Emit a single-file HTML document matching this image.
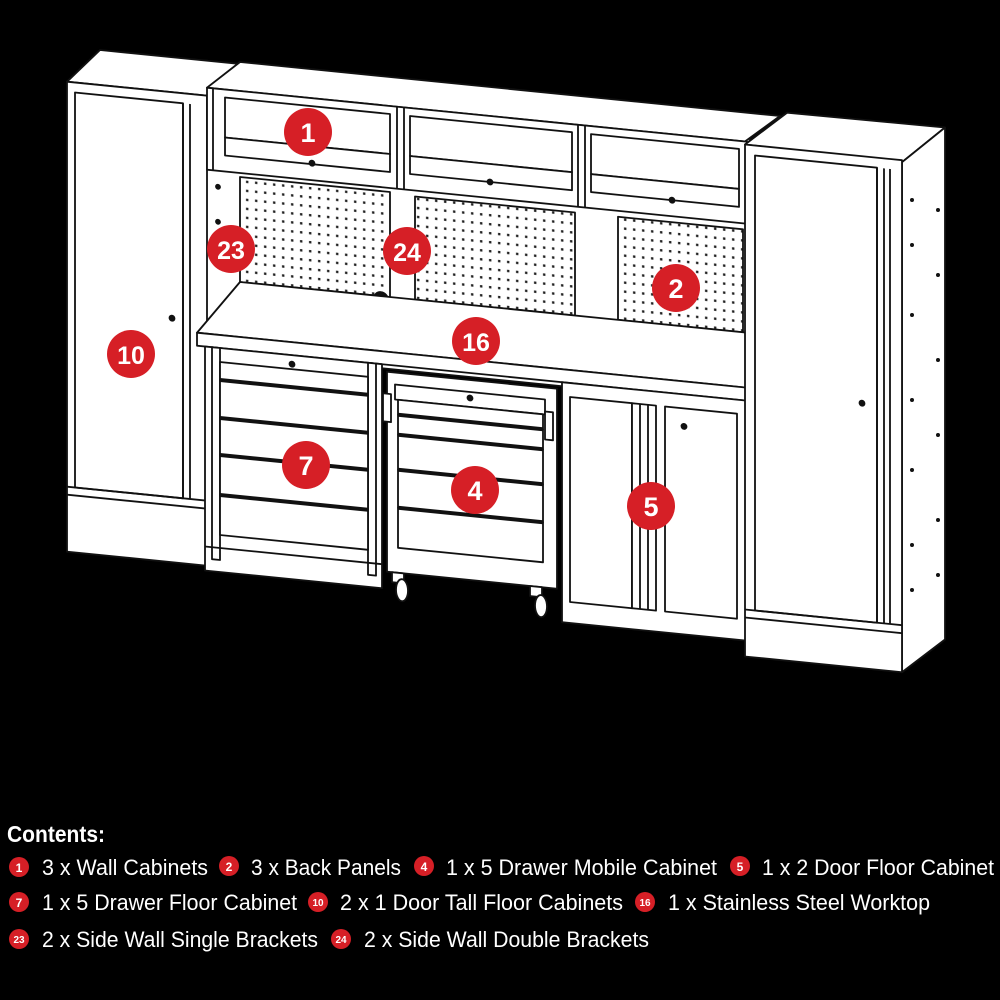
<!DOCTYPE html>
<html><head><meta charset="utf-8"><style>
html,body{margin:0;padding:0;background:#000;}
svg{display:block}
.t{font-family:"Liberation Sans Narrow","Liberation Sans",sans-serif;fill:#fff;font-size:22px}
.b{font-family:"Liberation Sans",sans-serif;font-weight:bold;fill:#fff;text-anchor:middle}
</style></head><body>
<svg width="1000" height="1000" viewBox="0 0 1000 1000" xmlns="http://www.w3.org/2000/svg">
<defs>
<pattern id="peg" width="9" height="9" patternUnits="userSpaceOnUse"><rect width="9" height="9" fill="#fff"/><rect x="3" y="3" width="2.4" height="2.4" fill="#222"/></pattern>
</defs>
<rect width="1000" height="1000" fill="#000"/>
<g transform="matrix(1,0.1,0,1,0,0)" stroke="#111" stroke-width="1.8" fill="#fff" stroke-linejoin="round">
  <!-- back wall behind middle -->
  <rect x="205" y="40" width="545" height="290"/>
  <!-- left tall cabinet -->
  <polygon points="67,75 100,40 240,40 207,75"/>
  <rect x="67" y="75" width="140" height="470"/>
  <rect x="75" y="85" width="108" height="395"/>
  <line x1="183" y1="85" x2="183" y2="480"/><line x1="190" y1="85" x2="190" y2="480"/>
  <line x1="67" y1="480" x2="207" y2="480"/><line x1="67" y1="488" x2="207" y2="488"/>
  <circle cx="172" cy="301" r="2.5" fill="#111"/>
  <!-- wall cabinets top -->
  <polygon points="207,67 240,38 780,38 745,67"/>
  <rect x="207" y="67" width="540" height="82"/>
  <line x1="397" y1="67" x2="397" y2="149"/><line x1="404" y1="67" x2="404" y2="149"/>
  <line x1="578" y1="67" x2="578" y2="149"/><line x1="585" y1="67" x2="585" y2="149"/>
  <line x1="213" y1="67" x2="213" y2="149"/>
  <rect x="225" y="75" width="165" height="40"/><rect x="225" y="115" width="165" height="18"/>
  <rect x="410" y="75" width="162" height="40"/><rect x="410" y="115" width="162" height="18"/>
  <rect x="591" y="75" width="148" height="40"/><rect x="591" y="115" width="148" height="18"/>
  <circle cx="312" cy="132" r="2.5" fill="#111"/><circle cx="490" cy="133" r="2.5" fill="#111"/><circle cx="672" cy="133" r="2.5" fill="#111"/>
  <!-- pegboards -->
  <rect x="240" y="153" width="150" height="105" fill="url(#peg)"/>
  <rect x="415" y="155" width="160" height="103" fill="url(#peg)"/>
  <rect x="618" y="155" width="125" height="103" fill="url(#peg)"/>
  <circle cx="381" cy="261" r="7" fill="#111"/><circle cx="579" cy="268" r="7" fill="#111"/>
  <!-- side bracket holes -->
  <circle cx="218" cy="165" r="2" fill="#111"/><circle cx="218" cy="200" r="2" fill="#111"/><circle cx="218" cy="240" r="2" fill="#111"/>
  <!-- worktop -->
  <polygon points="197,313 240,258 750,258 750,313"/>
  <rect x="197" y="313" width="553" height="13"/>
  <!-- cabinet 7 -->
  <rect x="205" y="326" width="177" height="224"/>
  <rect x="212" y="326" width="8" height="212"/><rect x="368" y="326" width="8" height="212"/>
  <rect x="220" y="340" width="148" height="18"/>
  <rect x="220" y="358" width="148" height="38"/>
  <rect x="220" y="396" width="148" height="37"/>
  <rect x="220" y="433" width="148" height="40"/>
  <rect x="220" y="473" width="148" height="40"/>
  <line x1="220" y1="358" x2="368" y2="358" stroke-width="4"/><line x1="220" y1="396" x2="368" y2="396" stroke-width="4"/>
  <line x1="220" y1="433" x2="368" y2="433" stroke-width="4"/><line x1="220" y1="473" x2="368" y2="473" stroke-width="4"/>
  <line x1="205" y1="526" x2="382" y2="526"/>
  <circle cx="292" cy="335" r="2.5" fill="#111"/>
  <!-- mobile cabinet 4 -->
  <rect x="387" y="333" width="170" height="200"/>
  <rect x="395" y="345" width="150" height="15"/>
  <rect x="398" y="360" width="145" height="15"/>
  <rect x="398" y="375" width="145" height="20"/>
  <rect x="398" y="395" width="145" height="35"/>
  <rect x="398" y="430" width="145" height="38"/>
  <rect x="398" y="468" width="145" height="40"/>
  <line x1="398" y1="375" x2="543" y2="375" stroke-width="4"/><line x1="398" y1="395" x2="543" y2="395" stroke-width="4"/>
  <line x1="398" y1="430" x2="543" y2="430" stroke-width="4"/><line x1="398" y1="468" x2="543" y2="468" stroke-width="4"/>
  <rect x="383" y="355" width="8" height="28"/><rect x="545" y="357" width="8" height="28"/>
  <circle cx="470" cy="351" r="2.5" fill="#111"/>
  <rect x="392" y="533" width="12" height="10"/><rect x="530" y="533" width="12" height="10"/>
  <ellipse cx="402" cy="550" rx="6" ry="11"/><ellipse cx="541" cy="552" rx="6" ry="11"/>
  <!-- cabinet 5 -->
  <rect x="562" y="326" width="188" height="240"/>
  <rect x="570" y="340" width="62" height="205"/>
  <rect x="632" y="340" width="24" height="205"/>
  <line x1="640" y1="340" x2="640" y2="545"/><line x1="648" y1="340" x2="648" y2="545"/>
  <rect x="665" y="340" width="72" height="205"/>
  <circle cx="684" cy="358" r="2.5" fill="#111"/>
  <!-- right tall cabinet -->
  <polygon points="745,70 787,34 945,33 902,72"/>
  <polygon points="902,72 945,33 945,545 902,582"/>
  <rect x="745" y="70" width="157" height="512"/>
  <rect x="755" y="80" width="122" height="455"/>
  <line x1="877" y1="80" x2="877" y2="535"/><line x1="884" y1="80" x2="884" y2="535"/><line x1="890" y1="80" x2="890" y2="535"/>
  <line x1="745" y1="535" x2="902" y2="535"/><line x1="745" y1="543" x2="902" y2="543"/>
  <circle cx="862" cy="317" r="2.5" fill="#111"/>
</g>
<!-- side dots right tall -->
<g fill="#111">
<circle cx="912" cy="200" r="2"/><circle cx="938" cy="210" r="2"/><circle cx="912" cy="245" r="2"/><circle cx="938" cy="275" r="2"/><circle cx="912" cy="315" r="2"/><circle cx="938" cy="360" r="2"/><circle cx="912" cy="400" r="2"/><circle cx="938" cy="435" r="2"/><circle cx="912" cy="470" r="2"/><circle cx="938" cy="520" r="2"/><circle cx="912" cy="545" r="2"/><circle cx="938" cy="575" r="2"/><circle cx="912" cy="590" r="2"/>
</g>
<!-- badges -->
<g>
<circle cx="308" cy="132" r="24" fill="#d61f26"/><text class="b" x="308" y="142" font-size="27">1</text>
<circle cx="231" cy="249" r="24" fill="#d61f26"/><text class="b" x="231" y="259" font-size="25">23</text>
<circle cx="407" cy="251" r="24" fill="#d61f26"/><text class="b" x="407" y="261" font-size="25">24</text>
<circle cx="676" cy="288" r="24" fill="#d61f26"/><text class="b" x="676" y="298" font-size="27">2</text>
<circle cx="131" cy="354" r="24" fill="#d61f26"/><text class="b" x="131" y="364" font-size="25">10</text>
<circle cx="476" cy="341" r="24" fill="#d61f26"/><text class="b" x="476" y="351" font-size="25">16</text>
<circle cx="306" cy="465" r="24" fill="#d61f26"/><text class="b" x="306" y="475" font-size="27">7</text>
<circle cx="475" cy="490" r="24" fill="#d61f26"/><text class="b" x="475" y="500" font-size="27">4</text>
<circle cx="651" cy="506" r="24" fill="#d61f26"/><text class="b" x="651" y="516" font-size="27">5</text>
</g>
<!-- contents -->
<text x="7" y="842" font-family="Liberation Sans Narrow, Liberation Sans, sans-serif" font-weight="bold" font-size="23" fill="#fff" textLength="98" lengthAdjust="spacingAndGlyphs">Contents:</text>
<g>
<circle cx="19" cy="867" r="10" fill="#d61f26"/><text class="b" x="19" y="872" font-size="12">1</text>
<text class="t" x="42" y="875" textLength="166" lengthAdjust="spacingAndGlyphs">3 x Wall Cabinets</text>
<circle cx="229" cy="866" r="10" fill="#d61f26"/><text class="b" x="229" y="871" font-size="12">2</text>
<text class="t" x="251" y="875" textLength="150" lengthAdjust="spacingAndGlyphs">3 x Back Panels</text>
<circle cx="424" cy="866" r="10" fill="#d61f26"/><text class="b" x="424" y="871" font-size="12">4</text>
<text class="t" x="446" y="875" textLength="271" lengthAdjust="spacingAndGlyphs">1 x 5 Drawer Mobile Cabinet</text>
<circle cx="740" cy="866" r="10" fill="#d61f26"/><text class="b" x="740" y="871" font-size="12">5</text>
<text class="t" x="762" y="875" textLength="232" lengthAdjust="spacingAndGlyphs">1 x 2 Door Floor Cabinet</text>

<circle cx="19" cy="902" r="10" fill="#d61f26"/><text class="b" x="19" y="907" font-size="12">7</text>
<text class="t" x="42" y="910" textLength="255" lengthAdjust="spacingAndGlyphs">1 x 5 Drawer Floor Cabinet</text>
<circle cx="318" cy="902" r="10" fill="#d61f26"/><text class="b" x="318" y="906" font-size="10">10</text>
<text class="t" x="340" y="910" textLength="283" lengthAdjust="spacingAndGlyphs">2 x 1 Door Tall Floor Cabinets</text>
<circle cx="645" cy="902" r="10" fill="#d61f26"/><text class="b" x="645" y="906" font-size="10">16</text>
<text class="t" x="668" y="910" textLength="262" lengthAdjust="spacingAndGlyphs">1 x Stainless Steel Worktop</text>

<circle cx="19" cy="939" r="10" fill="#d61f26"/><text class="b" x="19" y="943" font-size="10">23</text>
<text class="t" x="42" y="947" textLength="276" lengthAdjust="spacingAndGlyphs">2 x Side Wall Single Brackets</text>
<circle cx="341" cy="939" r="10" fill="#d61f26"/><text class="b" x="341" y="943" font-size="10">24</text>
<text class="t" x="364" y="947" textLength="285" lengthAdjust="spacingAndGlyphs">2 x Side Wall Double Brackets</text>
</g>
</svg>
</body></html>
